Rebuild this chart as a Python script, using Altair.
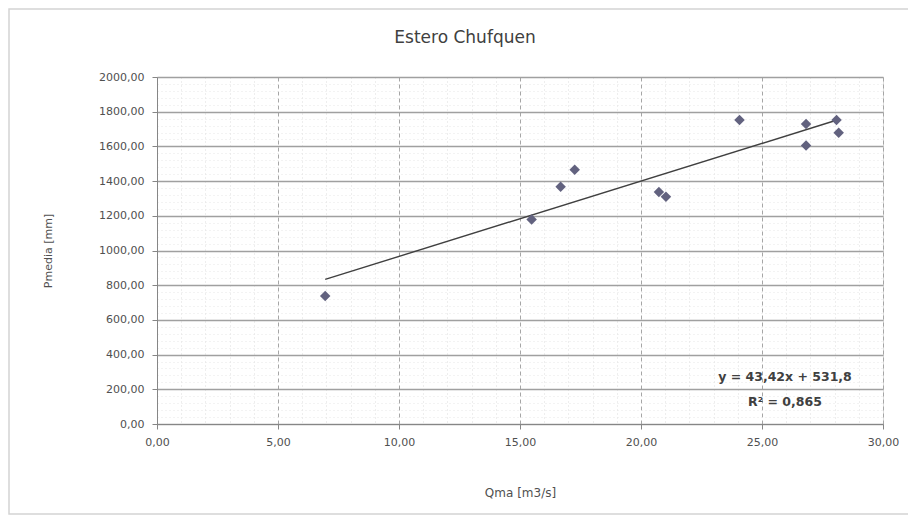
import altair as alt
import pandas as pd

# Data
qma = [6.95, 15.48, 16.68, 17.26, 20.74, 21.03, 24.07, 26.82, 26.82, 28.08, 28.17]
pmedia = [738, 1178, 1368, 1465, 1337, 1310, 1752, 1729, 1605, 1752, 1678]

slope = 43.42
intercept = 531.8
eq_labels = ["y = 43,42x + 531,8", "R² = 0,865"]
eq_x = [25.95, 25.95]
eq_y = [272, 128]

FONT = "DejaVu Sans"

df = pd.DataFrame({"q": qma, "p": pmedia})
xmin, xmax = min(qma), max(qma)
trend = pd.DataFrame({"q": [xmin, xmax], "p": [slope * xmin + intercept, slope * xmax + intercept]})
eq = pd.DataFrame({"q": eq_x, "p": eq_y, "t": eq_labels})

x_values = list(range(0, 31))
y_values = list(range(0, 2001, 40))

x_scale = alt.Scale(domain=[0, 30], nice=False, zero=True)
y_scale = alt.Scale(domain=[0, 2000], nice=False, zero=True)

x_axis = alt.Axis(
    values=x_values,
    tickCount=200,
    title="Qma [m3/s]",
    titleFont=FONT, titleFontSize=12, titleFontWeight="normal", titleColor="#505050",
    titleY=68, titleBaseline="middle",
    labelExpr="datum.value % 5 === 0 ? replace(format(datum.value, '.2f'), '.', ',') : ''",
    labelFont=FONT, labelFontSize=11, labelColor="#505050", labelPadding=7,
    labelOverlap=False, labelFlush=False,
    domainColor="#868686", tickSize=5,
    tickColor="#868686",
    tickOpacity={"condition": {"test": "datum.value % 5 === 0", "value": 1}, "value": 0},
    grid=True,
    gridColor={"condition": {"test": "datum.value % 5 === 0", "value": "#a6a6a6"}, "value": "#dcdcdc"},
    gridDash={"condition": {"test": "datum.value % 5 === 0", "value": [4, 3]}, "value": [1, 3]},
    gridWidth=1,
)

y_axis = alt.Axis(
    values=y_values,
    tickCount=200,
    title="Pmedia [mm]",
    titleFont=FONT, titleFontSize=11, titleFontWeight="normal", titleColor="#505050",
    titleX=-109, titleY=173.5, titleAngle=-90, titleAlign="center", titleBaseline="middle",
    labelExpr="datum.value % 200 === 0 ? replace(format(datum.value, '.2f'), '.', ',') : ''",
    labelFont=FONT, labelFontSize=11, labelColor="#505050", labelPadding=8,
    labelOverlap=False, labelFlush=False,
    domainColor="#868686", tickSize=5,
    tickColor="#868686",
    tickOpacity={"condition": {"test": "datum.value % 200 === 0", "value": 1}, "value": 0},
    grid=True,
    gridColor={"condition": {"test": "datum.value % 200 === 0", "value": "#a0a0a0"}, "value": "#e6e6e6"},
    gridDash={"condition": {"test": "datum.value % 200 === 0", "value": [1, 0]}, "value": [1, 3]},
    gridWidth={"condition": {"test": "datum.value % 200 === 0", "value": 1.3}, "value": 1},
)

points = alt.Chart(df).mark_point(
    shape="diamond", filled=True, size=110, color="#62627f", opacity=1
).encode(
    x=alt.X("q:Q", scale=x_scale, axis=x_axis),
    y=alt.Y("p:Q", scale=y_scale, axis=y_axis),
)

line = alt.Chart(trend).mark_line(color="#404040", strokeWidth=1.4).encode(
    x=alt.X("q:Q", scale=x_scale),
    y=alt.Y("p:Q", scale=y_scale),
)

text = alt.Chart(eq).mark_text(
    font=FONT, fontSize=12.5, fontWeight="bold", color="#404040", align="center", baseline="middle"
).encode(
    x=alt.X("q:Q", scale=x_scale),
    y=alt.Y("p:Q", scale=y_scale),
    text="t:N",
)

frame = alt.Chart(alt.Data(values=[{"a": 1}])).mark_rect(
    fill="transparent", stroke="#d4d4d4", strokeWidth=1.5
).encode(
    x=alt.value(-148), x2=alt.value(752), y=alt.value(-68), y2=alt.value(437)
)

chart = alt.layer(frame, line, points, text).properties(
    width=726,
    height=347,
    autosize="none",
    padding={"left": 149, "top": 69, "right": 25, "bottom": 92},
    title=alt.Title(
        "Estero Chufquen", font=FONT, fontSize=17, fontWeight="normal", color="#404040",
        anchor="middle", frame="bounds", offset=-39, dx=6,
    ),
).configure_view(stroke=None).configure(background="white")

chart.save("out.html", embed_options={"renderer": "svg", "actions": False})
